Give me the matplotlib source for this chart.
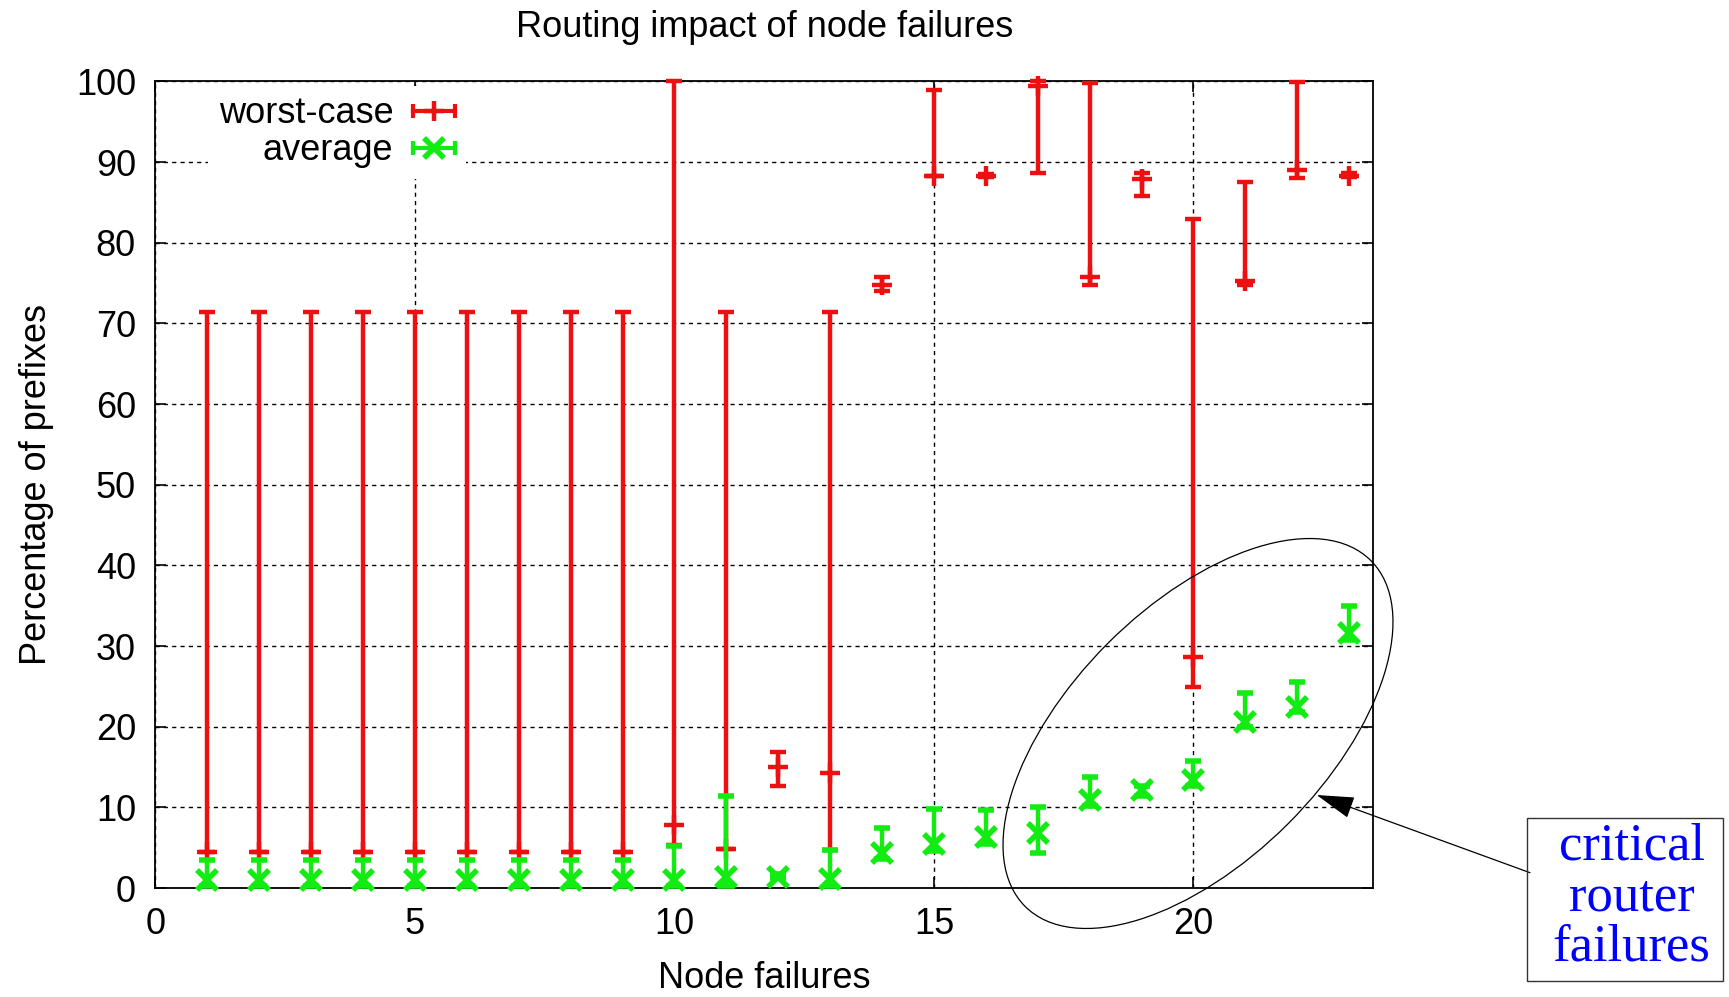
import matplotlib
matplotlib.use("Agg")
import matplotlib.pyplot as plt
from matplotlib.patches import Ellipse, Rectangle, FancyArrowPatch
from matplotlib.lines import Line2D
from matplotlib.legend_handler import HandlerBase

# node failure index
nodes = [1, 2, 3, 4, 5, 6, 7, 8, 9, 10, 11, 12, 13, 14, 15, 16, 17, 18, 19, 20, 21, 22, 23]

# worst-case: point, low end, high end (percent of prefixes)
worst_val = [4.5, 4.5, 4.5, 4.5, 4.5, 4.5, 4.5, 4.5, 4.5, 7.8, 4.9, 15.0,
             14.2, 74.8, 88.3, 88.3, 99.4, 75.7, 87.9, 28.7, 75.2, 89.0, 88.3]
worst_lo = [4.5, 4.5, 4.5, 4.5, 4.5, 4.5, 4.5, 4.5, 4.5, 5.3, 4.9, 12.7,
            4.7, 74.0, 88.3, 88.1, 88.7, 74.8, 85.8, 24.9, 74.8, 88.0, 88.1]
worst_hi = [71.4, 71.4, 71.4, 71.4, 71.4, 71.4, 71.4, 71.4, 71.4, 100.0, 71.4, 16.9,
            71.4, 75.7, 99.0, 88.5, 100.0, 99.8, 88.6, 82.9, 87.5, 99.9, 88.6]

# average: point, low end, high end
avg_val = [1.0, 1.0, 1.0, 1.0, 1.0, 1.0, 1.0, 1.0, 1.0, 1.0, 1.4, 1.4,
           1.1, 4.4, 5.5, 6.3, 6.8, 10.9, 12.1, 13.4, 20.6, 22.5, 31.6]
avg_lo = [0.2, 0.2, 0.2, 0.2, 0.2, 0.2, 0.2, 0.2, 0.2, 0.2, 0.2, 1.2,
          0.2, 3.6, 4.6, 5.4, 4.4, 10.2, 11.4, 12.6, 20.0, 21.8, 30.8]
avg_hi = [3.5, 3.5, 3.5, 3.5, 3.5, 3.5, 3.5, 3.5, 3.5, 5.2, 11.4, 1.7,
          4.7, 7.4, 9.8, 9.7, 10.1, 13.8, 12.7, 15.7, 24.2, 25.6, 35.0]

RED = "#ec1010"
GREEN = "#12ec12"
FONT = "Liberation Sans"
FS = 26

plt.rcParams["font.family"] = [FONT, "DejaVu Sans"]


class HBarHandler(HandlerBase):
    # gnuplot-style key sample: horizontal bar with end caps and the point
    def create_artists(self, legend, orig_handle, xdescent, ydescent,
                       width, height, fontsize, trans):
        y = height / 2 - ydescent
        c = orig_handle.get_color()
        x0, x1 = -xdescent, width - xdescent
        bar = Line2D([x0, x1], [y, y], color=c, lw=3)
        caps = Line2D([x0, x1], [y, y], ls="none", marker="|", ms=10, mew=3, color=c)
        pt = Line2D([(x0 + x1) / 2], [y], ls="none", marker=orig_handle.get_marker(),
                    ms=orig_handle.get_markersize(), mew=orig_handle.get_markeredgewidth(), color=c)
        for a in (bar, caps, pt):
            a.set_transform(trans)
        return [bar, caps, pt]


fig = plt.figure(figsize=(17.29, 9.97), dpi=100)
ax = fig.add_axes([0.0899, 0.1093, 0.7042, 0.8090])

w_err = [[v - l for v, l in zip(worst_val, worst_lo)],
         [h - v for v, h in zip(worst_val, worst_hi)]]
a_err = [[v - l for v, l in zip(avg_val, avg_lo)],
         [h - v for v, h in zip(avg_val, avg_hi)]]

ax.errorbar(nodes, worst_val, yerr=w_err, fmt="+", color=RED, ecolor=RED,
            elinewidth=3.2, capsize=6, capthick=3.2, ms=14, mew=3.2, zorder=3, clip_on=False)
ax.errorbar(nodes, avg_val, yerr=a_err, fmt="x", color=GREEN, ecolor=GREEN,
            elinewidth=3.2, capsize=6, capthick=3.2, ms=15, mew=4, zorder=4, clip_on=False)

ax.set_xlim(0, 23.46)
ax.set_ylim(0, 100)
ax.set_xticks([0, 5, 10, 15, 20])
ax.set_yticks(range(0, 101, 10))
ax.grid(True, color="black", linestyle=(0, (3, 3)), linewidth=1.0)
ax.set_axisbelow(True)
ax.tick_params(direction="in", length=8, width=1.2, top=True, right=True,
               labelsize=FS, pad=14)
for s in ax.spines.values():
    s.set_linewidth(1.3)

ax.set_title("Routing impact of node failures", fontsize=FS, pad=32)
ax.set_xlabel("Node failures", fontsize=FS, labelpad=13.5)
ax.set_ylabel("Percentage of prefixes", fontsize=FS, labelpad=15.5)

handles = [Line2D([], [], color=RED, marker="+", ms=14, mew=3.2),
           Line2D([], [], color=GREEN, marker="x", ms=14, mew=4)]
leg = ax.legend(handles, ["worst-case", "average"], handler_map={Line2D: HBarHandler()},
                loc="upper right", bbox_to_anchor=(0.2550, 0.9948), markerfirst=False,
                frameon=True, framealpha=1, edgecolor="none", fancybox=False,
                fontsize=FS, handlelength=1.16, handletextpad=0.55, labelspacing=0.05,
                borderpad=0.3, borderaxespad=0)
for t in leg.get_texts():
    t.set_ha("right")
leg.set_zorder(5)

# annotation: ellipse around the last points, arrow and label box
fig.add_artist(Ellipse((11.98, 2.635), 4.89, 2.55, angle=45, fill=False, lw=0.9,
                       ec="black", transform=fig.dpi_scale_trans))
fig.add_artist(FancyArrowPatch((15.30, 1.243), (13.167, 2.02),
                               arrowstyle="-|>,head_length=2.4,head_width=0.7",
                               mutation_scale=10, lw=0.9, color="black",
                               shrinkA=0, shrinkB=0, transform=fig.dpi_scale_trans))
fig.add_artist(Rectangle((15.27, 0.16), 1.96, 1.63, fill=False, lw=1.0, ec="#333333",
                         transform=fig.dpi_scale_trans))
fig.text(16.315 / 17.29, 1.0 / 9.97, "critical\nrouter\nfailures", ha="center", va="center",
         fontsize=38, family="Liberation Serif", color="#0000ff", linespacing=1.08)

fig.savefig("out.png", dpi=100)
